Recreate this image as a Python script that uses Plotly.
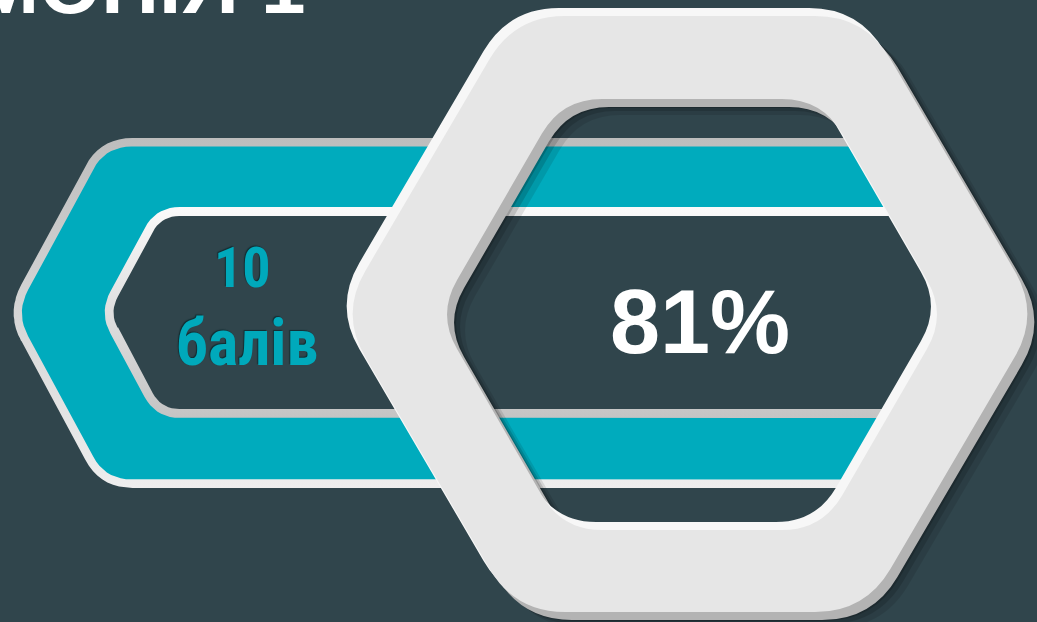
import numpy as np
import plotly.graph_objects as go

# ---------------- data / texts ----------------
title_text = ["ГАРМОНІЯ 1"]
score_value = [10]
score_unit = ["балів"]
share_value = [81]

W, H = 1037, 622
BG = "#30454C"
TEAL = "#00ABBD"


def hexagon(xl, xr, yt, yb, slope):
    ym = (yt + yb) / 2
    hh = (yb - yt) / 2
    return [(xl, ym), (xl + slope * hh, yt), (xr - slope * hh, yt),
            (xr, ym), (xr - slope * hh, yb), (xl + slope * hh, yb)]


def inset(poly, t):
    pts = [np.array(p, float) for p in poly]
    n = len(pts)
    c = np.mean(pts, axis=0)
    lines = []
    for i in range(n):
        p, q = pts[i], pts[(i + 1) % n]
        d = (q - p) / np.linalg.norm(q - p)
        nr = np.array([-d[1], d[0]])
        if np.dot(c - p, nr) < 0:
            nr = -nr
        lines.append((p + nr * t, d))
    out = []
    for i in range(n):
        p1, d1 = lines[i - 1]
        p2, d2 = lines[i]
        A = np.array([d1, -d2]).T
        s, _ = np.linalg.solve(A, p2 - p1)
        out.append(tuple(p1 + s * d1))
    return out


def shift(poly, dx, dy):
    return [(x + dx, y + dy) for x, y in poly]


def corners(poly, r):
    pts = [np.array(p, float) for p in poly]
    n = len(pts)
    res = []
    for i in range(n):
        v, a, b = pts[i], pts[i - 1], pts[(i + 1) % n]
        la, lb = np.linalg.norm(a - v), np.linalg.norm(b - v)
        rr = min(r, 0.45 * la, 0.45 * lb)
        res.append((v + (a - v) / la * rr, v, v + (b - v) / lb * rr))
    return res


def rpath(poly, r):
    cs = corners(poly, r)
    f = lambda p: f"{p[0]:.2f},{p[1]:.2f}"
    s = "M" + f(cs[0][2])
    for i in range(1, len(cs) + 1):
        pin, v, pout = cs[i % len(cs)]
        s += " L" + f(pin) + " Q" + f(v) + " " + f(pout)
    return s + " Z"


def rpoints(poly, r, k=10):
    cs = corners(poly, r)
    xs, ys = [], []
    for i in range(len(cs) + 1):
        pin, v, pout = cs[i % len(cs)]
        for t in np.linspace(0, 1, k):
            p = (1 - t) ** 2 * pin + 2 * (1 - t) * t * v + t ** 2 * pout
            xs.append(p[0]); ys.append(p[1])
    return xs, ys


fig = go.Figure()

# ---------------- left band (traces) ----------------
P0 = hexagon(6, 985, 138, 488, 0.54)
P_teal = inset(P0, 8.5)
P1 = hexagon(99, 1000, 207, 418, 0.54)
P_dark = inset(P1, 9)


def poly_trace(poly, r, color=None, grad=None, y0=None, y1=None):
    xs, ys = rpoints(poly, r)
    kw = dict(x=xs, y=ys, mode="lines", fill="toself", line=dict(width=0),
              hoverinfo="skip", showlegend=False)
    if grad:
        kw["fillgradient"] = dict(type="vertical", colorscale=[[0, grad[0]], [1, grad[1]]],
                                  start=y0, stop=y1)
    else:
        kw["fillcolor"] = color
    fig.add_trace(go.Scatter(**kw))


poly_trace(P0, 32, grad=("#BDBDBD", "#EEEEEE"), y0=138, y1=488)
poly_trace(P_teal, 26, color=TEAL)
poly_trace(P1, 24, grad=("#FAFAFA", "#C4C4C4"), y0=207, y1=418)
poly_trace(P_dark, 18, color=BG)

# ---------------- big hexagon ring (shapes) ----------------
OUT = hexagon(690 - 350, 690 + 350, 16, 612, 0.587)
HOLE = hexagon(692 - 255, 692 + 255, 99, 530, 0.58)


def ring(dx, dy, color):
    path = rpath(shift(OUT, dx, dy), 50) + " " + rpath(shift(HOLE, dx, dy), 40)
    fig.add_shape(type="path", path=path, xref="x", yref="y", fillcolor=color,
                  fillrule="evenodd", line=dict(width=0), layer="above")


ring(18, 16, "rgba(0,0,0,0.10)")
ring(13, 12, "rgba(0,0,0,0.14)")
ring(9, 9, "rgba(0,0,0,0.18)")
ring(7, 8, "#B3B3B3")
ring(-6, -8, "#F7F7F7")
ring(0, 0, "#E6E6E6")

# ---------------- texts ----------------
narrow = "Roboto Condensed, Roboto, sans-serif"
emboss = "-1px -1px 1px rgba(10,40,45,0.8)"
fig.add_annotation(x=242, y=268, xref="x", yref="y", text=str(score_value[0]),
                   showarrow=False, xanchor="center", yanchor="middle",
                   font=dict(family=narrow, size=56, color="#00A9BB", weight=700,
                             shadow=emboss))
fig.add_annotation(x=247, y=343, xref="x", yref="y", text=score_unit[0],
                   showarrow=False, xanchor="center", yanchor="middle",
                   font=dict(family=narrow, size=64, color="#00A9BB", weight=700,
                             shadow=emboss))
fig.add_annotation(x=700, y=322, xref="x", yref="y", text=f"{share_value[0]}%",
                   showarrow=False, xanchor="center", yanchor="middle",
                   font=dict(family="Liberation Sans, Arial, sans-serif", size=90,
                             color="#FFFFFF", weight=700))
fig.add_annotation(x=307, y=32, xref="x", yref="y", text=title_text[0],
                   showarrow=False, xanchor="right", yanchor="bottom",
                   font=dict(family="Liberation Sans, Arial, sans-serif", size=80,
                             color="#FFFFFF", weight=700))

fig.update_xaxes(range=[0, W], visible=False, fixedrange=True)
fig.update_yaxes(range=[H, 0], visible=False, fixedrange=True)
fig.update_layout(width=W, height=H, autosize=False,
                  margin=dict(l=0, r=0, t=0, b=0, pad=0),
                  paper_bgcolor=BG, plot_bgcolor=BG, showlegend=False)

fig.write_html("out.html",
               config={"displayModeBar": False},
               post_script="document.body.style.margin='0';"
                           "document.body.style.overflow='hidden';"
                           "document.body.style.background='" + BG + "';")
